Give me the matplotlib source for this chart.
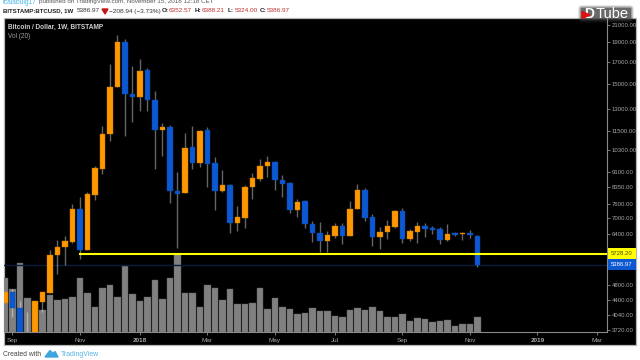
from matplotlib import pyplot as plt
from matplotlib.patches import FancyBboxPatch, Polygon, Rectangle

#----------Weekly candles (BTCUSD, BITSTAMP)----------#

opens = [4326, 4604, 4219, 3660, 3650, 4358, 4579, 5678, 5952, 6133, 7370, 5850, 8005, 9260, 11273, 14714,
         19017, 14164, 13902, 16256, 13690, 11570, 11729, 8188, 8082, 10471, 9597, 11530, 9565, 8188, 8458, 6808,
         7027, 8348, 8765, 9419, 9651, 8700, 8540, 7340, 7725, 6770, 6443, 6147, 6346, 6716, 6346, 7378,
         8221, 7044, 6310, 6479, 6678, 7287, 6228, 6491, 6705, 6618, 6581, 6181, 6443, 6396, 6432, 6352.57]
highs = [4640, 4689, 4382, 4125, 4376, 4604, 5850, 6192, 6335, 7595, 7888, 8128, 9419, 11815, 16760, 19787,
         19311, 16572, 17301, 16384, 14431, 11997, 11882, 9104, 11337, 11815, 11550, 11729, 9912, 9208, 8506, 7509,
         8444, 9037, 9783, 9968, 9674, 8935, 8603, 7812, 7790, 6909, 6847, 6516, 6819, 6819, 7712, 8520,
         8316, 7164, 6656, 6924, 7328, 7424, 6576, 6858, 6808, 6705, 6667, 6770, 6479, 6468, 6550, 6388.21]
lows = [4326, 3996, 3600, 3600, 3600, 4125, 4579, 5099, 5375, 6088, 5570, 5850, 7768, 9001, 10870, 14714,
        11184, 12085, 12842, 12842, 9245, 9968, 7637, 5928, 8082, 9277, 9382, 8377, 7340, 8128, 6432, 6516,
        6630, 7826, 8650, 8850, 8221, 7915, 7229, 7044, 6618, 6123, 5785, 5785, 6263, 6054, 6346, 7378,
        6909, 5996, 5885, 6228, 6640, 6099, 6158, 6099, 6310, 6396, 6054, 6158, 6346, 6193, 6263, 5324.00]
closes = [4604, 4219, 3650, 3640, 4376, 4604, 5678, 5962, 6147, 7370, 5860, 8037, 9298, 11292, 14737, 19017,
          14188, 13902, 16163, 13666, 11570, 11729, 8175, 8050, 10431, 9597, 11485, 9543, 8175, 8458, 6808, 7044,
          8362, 8815, 9419, 9651, 8700, 8520, 7340, 7693, 6770, 6432, 6147, 6360, 6716, 6346, 7395, 8221,
          7027, 6310, 6491, 6705, 7287, 6228, 6505, 6705, 6592, 6566, 6193, 6407, 6382, 6443, 6360, 5386.97]

# Volume, thousand BTC
volumes = [134, 107, 171, 84, 74, 54, 92, 79, 81, 86, 134, 97, 63, 109, 118, 88,
           165, 94, 76, 87, 130, 81, 134, 194, 97, 97, 62, 118, 109, 79, 106, 70,
           70, 71, 109, 58, 84, 61, 56, 44, 48, 59, 51, 51, 40, 38, 55, 59,
           55, 63, 51, 38, 36, 44, 28, 34, 33, 24, 26, 30, 15, 20, 20, 36]

#----------Axis ticks and price lines----------#

price_ticks = [21000, 19000, 17000, 15000, 13000, 11500, 10300, 9100, 8350, 7600, 7000, 6400, 4800, 4400, 4040, 3720]
week_ticks = [1, 10, 18, 27, 36, 44, 53, 62, 71, 79]
week_labels = ['Sep', 'Nov', '2018', 'Mar', 'May', 'Jul', 'Sep', 'Nov', '2019', 'Mar']
support_price = 5728.20
support_start = 10
last_price = 5386.97

#----------Figure----------#

plt.rcParams['font.family'] = ['Liberation Sans', 'DejaVu Sans']

fig = plt.figure(figsize=(6.4, 3.6), dpi=100, facecolor='white')

# Whole figure in pixels, for the panel and the header texts
bg = fig.add_axes([0, 0, 1, 1], zorder=0)
bg.set_xlim(0, 640)
bg.set_ylim(360, 0)
bg.axis('off')

bg.add_patch(Rectangle((4, 18), 632, 326.5, facecolor='black', edgecolor='#b5b5b5', linewidth=0.9))

# Volume goes under the candles
left, right, top, bottom = 4, 607, 18, 331.7
pos = [left / 640, 1 - bottom / 360, (right - left) / 640, (bottom - top) / 360]

ax_vol = fig.add_axes(pos, zorder=1)
ax_vol.patch.set_visible(False)
ax = fig.add_axes(pos, zorder=2)
ax.patch.set_visible(False)

weeks = list(range(len(closes)))

#----------Volume----------#

ax_vol.bar(weeks, volumes, width=0.88, color='#808080', edgecolor='#606060', linewidth=0.3)
ax_vol.set_xlim(-0.133, 80.27)
ax_vol.set_ylim(0, 785)
ax_vol.axis('off')

#----------Candles----------#

ax.set_yscale('log')
ax.set_xlim(-0.133, 80.27)
ax.set_ylim(3684, 21788)

for w, o, h, l, c in zip(weeks, opens, highs, lows, closes):
    ax.plot([w, w], [l, h], color='white', alpha=0.4, linewidth=1.0, solid_capstyle='butt', zorder=2)
    if c >= o:
        ax.bar(w, c - o, bottom=o, width=0.72, color='#ff9800', edgecolor='#c47a00', linewidth=0.3, zorder=3)
    else:
        ax.bar(w, o - c, bottom=c, width=0.72, color='#0c58d2', edgecolor='#0a479f', linewidth=0.3, zorder=3)

# Support level and last price
ax.plot([weeks[-1] + 100, support_start], [support_price, support_price], color='#ffff00', linewidth=1.5, zorder=4)
ax.axhline(last_price, color='#0b1c3f', linewidth=1.0, zorder=1)

#----------Axes----------#

ax.yaxis.tick_right()
ax.set_yticks(price_ticks)
ax.set_yticklabels(['%.2f' % p for p in price_ticks])
ax.minorticks_off()
ax.tick_params(axis='y', colors='#a8a8a8', labelsize=4.3, length=2, width=0.5, pad=1.5)
ax.set_xticks(week_ticks)
ax.set_xticklabels(week_labels)
ax.tick_params(axis='x', colors='#a8a8a8', labelsize=4.6, length=2, width=0.5, pad=2.5)
ax.get_xticklabels()[2].set_fontweight('bold')
ax.get_xticklabels()[8].set_fontweight('bold')

for side in ['top', 'left']:
    ax.spines[side].set_visible(False)
for side in ['bottom', 'right']:
    ax.spines[side].set_color('#8a8a8a')
    ax.spines[side].set_linewidth(0.8)

# Price tags on the scale
tag_trans = ax.get_yaxis_transform()
ax.text(1.0065, support_price, '%.2f' % support_price, transform=tag_trans, fontsize=4.3, color='#4a4a00',
        va='center', ha='left', clip_on=False, zorder=6,
        bbox=dict(boxstyle='square,pad=0.5', facecolor='#ffff00', edgecolor='none'))
ax.text(1.0065, last_price, '%.2f' % last_price, transform=tag_trans, fontsize=4.3, color='white',
        va='center', ha='left', clip_on=False, zorder=6,
        bbox=dict(boxstyle='square,pad=0.5', facecolor='#0c58d2', edgecolor='none'))

#----------Header texts----------#

bg.text(3, 2, 'fcalabuig17', fontsize=4.8, color='#4ab8e8', va='center', clip_on=True)
bg.text(39, 2, 'published on TradingView.com, November 15, 2018 12:18 CET', fontsize=4.5, color='#555555',
        va='center', clip_on=True)

bg.text(3, 11, 'BITSTAMP:BTCUSD, 1W', fontsize=4.45, color='#222222', fontweight='bold', va='center')
bg.text(77, 11, '5386.97', fontsize=4.6, color='#333333', va='center')
bg.add_patch(Polygon([(102, 9), (108, 9), (105, 14)], color='#c01818'))
bg.text(109, 11, '\u2212208.94 (\u22123.73%)', fontsize=4.65, color='#333333', va='center')
for x, name, value in [(162, 'O:', '6352.57'), (195, 'H:', '6388.21'), (228, 'L:', '5324.00'), (260, 'C:', '5386.97')]:
    bg.text(x, 11, name, fontsize=4.6, color='#222222', fontweight='bold', va='center')
    bg.text(x + 7, 11, value, fontsize=4.6, color='#c03030', va='center')

bg.text(7.5, 27, 'Bitcoin / Dollar, 1W, BITSTAMP', fontsize=4.7, color='#d0d0d0', fontweight='bold', va='center')
bg.text(7.5, 36, 'Vol (20)', fontsize=4.7, color='#a0a0a0', va='center')

#----------Footer----------#

bg.text(3, 355, 'Created with', fontsize=4.9, color='#444444', va='center')
bg.add_patch(Polygon([(45, 357), (50, 350.5), (53, 353.5), (55, 351.5), (58, 357)], color='#3da5dd'))
bg.text(61, 355, 'TradingView', fontsize=4.95, color='#55b4e6', va='center')

#----------DTube logo----------#

for pad, alpha in [(4, 0.12), (3, 0.2), (2, 0.3), (1, 0.5)]:
    bg.add_patch(FancyBboxPatch((582, 9), 48, 10, boxstyle='round,pad=%d' % pad, facecolor='#3a3a3a',
                                edgecolor='none', alpha=alpha, zorder=5))
bg.text(584, 14, 'D', fontsize=10, color='white', fontweight='bold', va='center', zorder=6)
bg.add_patch(Polygon([(582, 11.5), (590, 15), (582, 18.5)], color='#e01010', zorder=7))
bg.text(596, 14, 'Tube', fontsize=10.5, color='white', va='center', zorder=6)

plt.savefig('out.png', dpi=100)
